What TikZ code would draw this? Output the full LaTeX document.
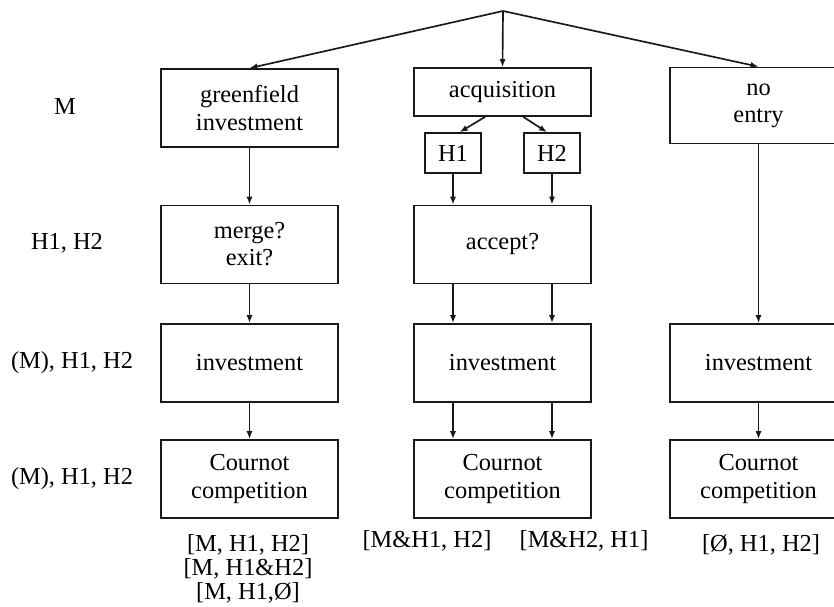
\documentclass[tikz,border=0pt]{standalone}
\usepackage{fontspec}
\setmainfont{Liberation Serif}
\usepackage{tikz}
\usepackage{xcolor}
\usetikzlibrary{arrows.meta,calc,positioning}
\colorlet{stageLine}{black!90}
\tikzset{
  stagebox/.style={
    rectangle, draw=stageLine, line width=1.25pt,
    minimum width=132.75pt, minimum height=58.5pt, align=center,
    font=\fontsize{18.3}{20.3}\selectfont, inner sep=2pt
  },
  stagesmall/.style={
    rectangle, draw=stageLine, line width=1.25pt,
    minimum width=42pt, minimum height=30pt, align=center,
    font=\fontsize{18.3}{20.3}\selectfont, inner sep=2pt
  },
  stagearrow/.style={-{Latex[length=6pt,width=4.6pt]}, line width=1.25pt, draw=stageLine},
  stageplayer/.style={font=\fontsize{18.3}{20.3}\selectfont, align=center},
  stageoutcome/.style={font=\fontsize{18.3}{18}\selectfont, align=center}
}

\begin{document}
\begin{tikzpicture}[x=0.75pt,y=-0.75pt]
  \clip (0,0) rectangle (834,606);

  % players at each stage
  \node[stageplayer] (plM) at (65,107) {M};
  \node[stageplayer] (plH) at (67,243) {H1, H2};
  \node[stageplayer] (plInv) at (72,363) {(M), H1, H2};
  \node[stageplayer] (plCour) at (72,479) {(M), H1, H2};

  % entry decision
  \coordinate (root) at (503,11);
  \node[stagebox] (green) at (249.5,108) {greenfield\\investment};
  \node[stagebox, minimum height=36pt] (acq) at (502.5,92) {acquisition};
  \node[stagebox, minimum height=57pt] (noentry) at (758.5,105.5) {no\\entry};
  \node[stagesmall] (hone) at (453,153) {H1};
  \node[stagesmall] (htwo) at (552,153) {H2};

  \node[stagebox] (merge) at (249.5,244.5) {merge?\\exit?};
  \node[stagebox] (accept) at (502.5,244.5) {accept?};

  \node[stagebox] (invGreen) at (249.5,363) {investment};
  \node[stagebox] (invAcq) at (502.5,363) {investment};
  \node[stagebox] (invNone) at (758.5,363) {investment};

  \node[stagebox] (courGreen) at (249.5,479) {Cournot\\competition};
  \node[stagebox] (courAcq) at (502.5,479) {Cournot\\competition};
  \node[stagebox] (courNone) at (758.5,479) {Cournot\\competition};

  \draw[stagearrow] (root) -- (green.north);
  \draw[stagearrow] (root) -- (acq.north);
  \draw[stagearrow] (root) -- (noentry.north);
  \draw[stagearrow] ([xshift=-13pt]acq.south) -- ([xshift=5pt]hone.north);
  \draw[stagearrow] ([xshift=15.5pt]acq.south) -- ([xshift=-3.75pt]htwo.north);

  \draw[stagearrow] (green) -- (merge);
  \draw[stagearrow] (merge) -- (invGreen);
  \draw[stagearrow] (invGreen) -- (courGreen);

  \draw[stagearrow] (hone) -- (hone |- accept.north);
  \draw[stagearrow] (htwo) -- (htwo |- accept.north);
  \draw[stagearrow] (hone |- accept.south) -- (hone |- invAcq.north);
  \draw[stagearrow] (htwo |- accept.south) -- (htwo |- invAcq.north);
  \draw[stagearrow] (hone |- invAcq.south) -- (hone |- courAcq.north);
  \draw[stagearrow] (htwo |- invAcq.south) -- (htwo |- courAcq.north);

  \draw[stagearrow] (noentry) -- (invNone);
  \draw[stagearrow] (invNone) -- (courNone);

  % market structures
  \node[stageoutcome, anchor=north] (outGreen) at (248,530)
    {{[M, H1, H2]}\\{[M, H1\&H2]}\\{[M, H1,Ø]}};
  \node[stageoutcome] (outAcqOne) at (427,541) {[M\&H1, H2]};
  \node[stageoutcome] (outAcqTwo) at (584,541) {[M\&H2, H1]};
  \node[stageoutcome] (outNone) at (761,545) {[Ø, H1, H2]};
\end{tikzpicture}
\end{document}
